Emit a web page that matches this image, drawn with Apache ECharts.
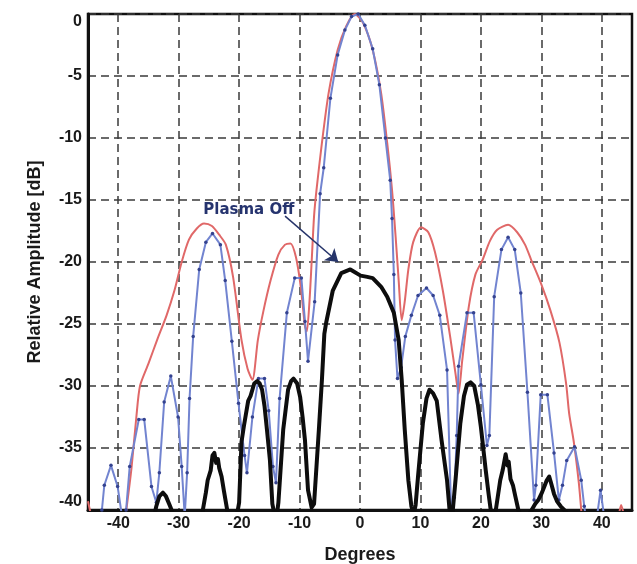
<!DOCTYPE html>
<html>
<head>
<meta charset="utf-8">
<script src="https://cdn.jsdelivr.net/npm/echarts@6/dist/echarts.min.js"></script>
<style>
html,body{margin:0;padding:0;background:#fff;}
#chart{width:637px;height:564px;}
</style>
</head>
<body>
<div id="chart"></div>
<script>
// ---- data (degrees, relative amplitude dB) ----
const xTicks = [-40, -30, -20, -10, 0, 10, 20, 30, 40];
const yTicks = [0, -5, -10, -15, -20, -25, -30, -35, -40];

// red smooth curve
const redCurve = [
  [-45,-39.3],[-44.4,-40.6],[-43,-43],[-40,-44],[-38.8,-40.5],[-38.4,-39],[-37.8,-36.6],[-37,-32.5],
  [-36.4,-30],[-35,-28.2],[-33.5,-26.2],[-32,-24.3],[-30.7,-22.3],[-29.5,-20],[-28.3,-18.2],[-27,-17.3],
  [-25.8,-16.9],[-24.5,-17.1],[-23.3,-17.8],[-22.2,-18.6],[-21,-21.2],[-19.6,-26.3],[-18.6,-28.6],
  [-17.8,-29.5],[-16.9,-26.3],[-16,-24],[-14.8,-21.5],[-13.5,-19.4],[-12.4,-18.6],[-11.5,-18.5],
  [-10.6,-19.6],[-9.8,-22],[-9.1,-25.2],[-8.8,-25.6],[-8.4,-23.5],[-8.0,-20],[-7.6,-16.3],[-7.2,-14.2],
  [-6.3,-10.4],[-5.2,-6.4],[-3.7,-2.9],[-2.3,-1],[-0.9,0],[0.5,-0.7],[2.1,-2.9],[3.5,-6.4],[4.5,-10.4],
  [5.3,-14.2],[5.9,-18],[6.4,-21.5],[6.9,-24.7],[7.4,-23.2],[8,-20.6],[8.8,-18.4],[10.1,-17.2],
  [11.3,-17.6],[12.4,-19.2],[13.7,-22.3],[15,-26.3],[15.8,-29],[16.3,-30.6],[16.9,-28],[18,-23.6],
  [19.1,-21],[20.3,-19.8],[21.5,-18.3],[22.7,-17.4],[24.5,-17],[26,-17.6],[27.3,-18.6],[28.3,-19.8],
  [30,-21.8],[31.5,-23.9],[33,-26.5],[34.1,-29.8],[34.6,-32.2],[35.4,-34.6],[36.2,-37.8],[36.7,-40.5],
  [37.5,-44],[41.5,-44],[42.8,-40.5],[43.2,-39.6],[43.7,-40.5],[45,-43]
];

// blue measured curve with sample dots
const blueCurve = [
  [-45,-44],[-43.3,-42],[-42.7,-40],[-42.3,-38],[-41.2,-36.4],[-40.1,-38.1],[-39.5,-40.1],[-39.1,-41.5],
  [-38.7,-40],[-38.1,-36.5],[-36.6,-32.7],[-35.7,-32.7],[-34.5,-38.1],[-33.7,-39.4],[-33.2,-37],
  [-32.4,-31.3],[-31.3,-29.2],[-30.1,-32.5],[-29.5,-36.5],[-29,-40.5],[-28.6,-37],[-28.2,-31],
  [-27.6,-26],[-26.6,-20.6],[-25.5,-18.4],[-24.4,-17.7],[-23.1,-18.6],[-22.3,-21.5],[-21.2,-26.4],
  [-20.1,-31.4],[-19.1,-35.6],[-18.7,-37],[-17.8,-32.5],[-16.8,-29.4],[-15.8,-29.4],[-15.1,-32],
  [-14.4,-36.5],[-13.9,-37.8],[-13.3,-31],[-12.1,-24.1],[-10.8,-21.3],[-9.7,-21.3],[-9.1,-24.8],
  [-8.6,-28],[-7.5,-23.2],[-6.6,-14.5],[-6,-12.4],[-4.9,-6.8],[-3.7,-3.3],[-2.5,-1.3],[-1.4,-0.2],
  [-0.3,0],[0.8,-0.9],[2.1,-2.8],[3.2,-5.7],[4.2,-10],[5,-13.4],[5.3,-16.5],[5.6,-21],[5.8,-26.3],
  [6.2,-29.4],[6.8,-28.5],[7.5,-26],[8.5,-24.3],[9.6,-22.7],[11,-22.1],[12.1,-22.7],[13.2,-24.3],
  [14.4,-28.7],[15.1,-40.5],[15.6,-39],[16,-34],[16.3,-28.4],[17.7,-24.1],[18.8,-24.1],[20,-29.9],
  [21,-34.8],[21.4,-34],[22.2,-22.8],[23.4,-19],[24.5,-18],[25.6,-19],[26.6,-22.5],[27.7,-30.5],
  [28.8,-39.2],[29.1,-38],[29.9,-30.7],[31,-30.7],[32.1,-35.4],[32.9,-39.2],[33.5,-38],[34.2,-36],
  [35.5,-34.9],[36.6,-37.6],[37.1,-39.7],[37.6,-41.5],[39.3,-40.2],[39.8,-38.4],[40.3,-40.2],[41,-42],[45,-42]
];

// black "Plasma Off" curve
const plasmaOffCurve = [
  [-45,-42],[-34.3,-41],[-33.7,-39.7],[-33.2,-38.9],[-32.6,-38.6],[-32.1,-38.9],[-31.5,-39.6],[-31,-40.2],
  [-30,-42],[-27,-42],[-26,-40],[-25.5,-38.6],[-25.2,-37.6],[-24.7,-36.8],[-24.4,-35.6],[-24.1,-35.4],
  [-23.8,-36.2],[-23.5,-35.9],[-23.3,-36.6],[-22.9,-37.3],[-22.5,-38.5],[-21.9,-40.2],[-21,-42],
  [-20.4,-40.5],[-20,-39.4],[-19.6,-34.5],[-19.2,-33.2],[-18.5,-31.2],[-18.1,-30.8],[-17.5,-29.8],
  [-17,-29.6],[-16.6,-29.8],[-16.2,-30.3],[-15.8,-31.6],[-15.4,-33.5],[-14.9,-36],[-14.5,-39.5],
  [-14.1,-40.5],[-13.7,-40.2],[-13.5,-39.4],[-12.7,-33.5],[-11.9,-30.3],[-11.4,-29.6],[-11,-29.4],
  [-10.4,-29.8],[-9.9,-30.9],[-9.5,-32.5],[-9.1,-34.4],[-8.6,-38.4],[-8,-39.8],[-7.6,-39.5],
  [-7.2,-36.5],[-6.8,-33.5],[-6.3,-29.5],[-5.9,-25.8],[-5.6,-24.9],[-4.5,-22.3],[-3.1,-20.9],
  [-1.6,-20.6],[0.1,-21.1],[1.2,-21.2],[2.1,-21.3],[3.5,-22],[4.5,-22.8],[5.6,-24.1],[6.4,-26.3],
  [6.9,-29.5],[7.4,-33.5],[8,-37.6],[8.5,-39.7],[8.9,-40.3],[9.2,-39.6],[9.6,-37.3],[10.4,-33],
  [11,-31],[11.5,-30.3],[12.1,-30.6],[12.7,-31.2],[13.5,-34.4],[14.4,-37.6],[14.8,-39.9],[15.3,-40.3],
  [15.8,-37.6],[16.6,-33],[17.2,-30.8],[17.7,-29.9],[18.3,-29.7],[18.9,-30],[19.5,-31.5],[20,-33.3],
  [20.8,-36.8],[21.3,-38.8],[21.6,-39.9],[22.1,-40.5],[22.5,-39.9],[23.2,-37.6],[23.6,-36.8],
  [24.1,-35.5],[24.4,-36.4],[24.6,-36.1],[24.9,-37.5],[25.3,-38],[25.7,-38.9],[26.2,-40],[27,-41],
  [28.4,-40],[29,-39.5],[29.5,-39.2],[30.1,-38.6],[30.5,-38.1],[30.9,-37.6],[31.3,-37.3],[31.6,-37.8],
  [32.1,-38.7],[32.6,-39.3],[33.2,-39.7],[34,-40.1],[35,-41],[45,-42]
];

// annotation
const annotationText = 'Plasma Off';
const annotationAt = [-18.4, -15.8];
const arrowFrom = [-12.4, -16.3];
const arrowTo = [-3.6, -20.0];

const FONT = '"Liberation Sans", Arial, Helvetica, sans-serif';

const chart = echarts.init(document.getElementById('chart'), null, {renderer: 'canvas'});
chart.setOption({
  animation: false,
  backgroundColor: '#ffffff',
  grid: {
    left: 88, right: 5, top: 14, bottom: 54,
    outerBoundsMode: 'none', containLabel: false,
    show: true, borderColor: '#111', borderWidth: 2.5, backgroundColor: 'transparent'
  },
  xAxis: {
    type: 'value', min: -45, max: 45,
    name: 'Degrees', nameLocation: 'middle', nameGap: 36,
    nameTextStyle: {fontFamily: FONT, fontWeight: 'bold', fontSize: 18, color: '#1a1a1a'},
    axisLine: {show: true, onZero: false, lineStyle: {color: '#111', width: 3}},
    axisTick: {show: false, customValues: xTicks},
    axisLabel: {customValues: xTicks, margin: 6, fontFamily: FONT, fontWeight: 'bold', fontSize: 16, color: '#1a1a1a'},
    splitLine: {show: true, lineStyle: {color: '#3a3a3a', width: 1.5, type: [8, 5]}}
  },
  yAxis: {
    type: 'value', min: -40, max: 0, interval: 5,
    name: 'Relative Amplitude [dB]', nameLocation: 'middle', nameGap: 44,
    nameTextStyle: {fontFamily: FONT, fontWeight: 'bold', fontSize: 18, color: '#1a1a1a'},
    axisLine: {show: true, onZero: false, lineStyle: {color: '#111', width: 3}},
    axisTick: {show: false},
    axisLabel: {margin: 6, fontFamily: FONT, fontWeight: 'bold', fontSize: 16, color: '#1a1a1a',
      verticalAlignMinLabel: 'bottom', verticalAlignMaxLabel: 'top'},
    splitLine: {show: true, lineStyle: {color: '#3a3a3a', width: 1.5, type: [8, 5]}}
  },
  series: [
    {
      name: 'red', type: 'line', data: redCurve, smooth: 0.25, showSymbol: false, clip: true,
      lineStyle: {color: '#e06868', width: 2}, z: 2
    },
    {
      name: 'blue', type: 'line', data: blueCurve, smooth: false, clip: true,
      symbol: 'circle', symbolSize: 3.5, showSymbol: true,
      itemStyle: {color: '#34428f', borderWidth: 0},
      lineStyle: {color: '#7284d0', width: 2}, z: 3
    },
    {
      name: 'plasmaOff', type: 'line', data: plasmaOffCurve, smooth: false, showSymbol: false, clip: true,
      lineStyle: {color: '#0d0d0d', width: 4, join: 'round', cap: 'round'}, z: 4,
      markLine: {
        silent: true, animation: false, symbol: ['none', 'arrow'], symbolSize: 12,
        label: {show: false},
        itemStyle: {color: '#26346a'},
        lineStyle: {color: '#26346a', width: 1.5, type: 'solid'},
        data: [[{coord: arrowFrom}, {coord: arrowTo}]]
      },
      markPoint: {
        silent: true, animation: false, symbol: 'circle', symbolSize: 1,
        itemStyle: {color: 'rgba(0,0,0,0)'},
        label: {show: true, position: 'inside', formatter: annotationText,
          fontFamily: '"DejaVu Sans", sans-serif', fontWeight: 'bold', fontSize: 15, color: '#25336e'},
        data: [{coord: annotationAt}]
      }
    }
  ]
});
</script>
</body>
</html>
